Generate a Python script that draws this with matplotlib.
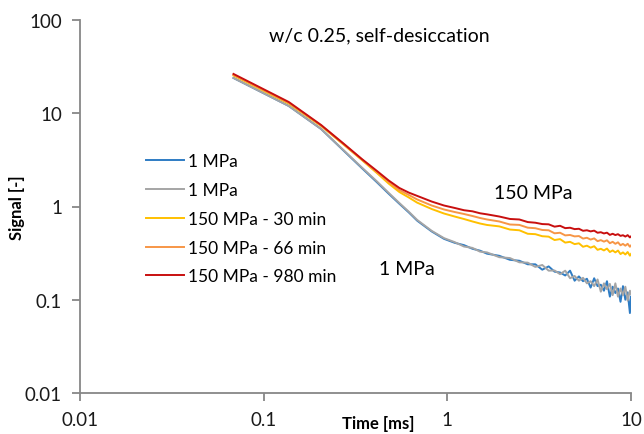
import matplotlib
matplotlib.use("Agg")
import matplotlib.pyplot as plt
from matplotlib.ticker import FixedLocator, FixedFormatter, NullLocator

plt.rcParams["font.family"] = ["Lato", "DejaVu Sans"]

# echo times [ms]
time_ms = [0.0685, 0.137, 0.2055, 0.274, 0.3425, 0.411, 0.4795, 0.548, 0.6165, 0.685,
           0.822, 0.959, 1.096, 1.233, 1.37, 1.507, 1.644,
           1.918, 2.192, 2.466, 2.74, 3.014, 3.288, 3.562, 3.836, 4.11, 4.384,
           4.658, 4.932, 5.206, 5.48, 5.754, 6.028, 6.302, 6.576, 6.85, 7.124,
           7.398, 7.672, 7.946, 8.22, 8.494, 8.768, 9.042, 9.316, 9.59, 9.864, 10.0]

sig_1mpa_a = [23.9, 11.97, 6.78, 3.93, 2.58, 1.84, 1.37, 1.07, 0.865, 0.705,
              0.540, 0.450, 0.408, 0.385, 0.352, 0.336, 0.312,
              0.296, 0.268, 0.262, 0.240, 0.240, 0.210, 0.228, 0.200, 0.196, 0.182,
              0.205, 0.160, 0.178, 0.158, 0.168, 0.135, 0.170, 0.140, 0.145, 0.125,
              0.158, 0.108, 0.138, 0.118, 0.132, 0.095, 0.140, 0.100, 0.120, 0.072, 0.108]

sig_1mpa_b = [23.9, 11.97, 6.78, 3.97, 2.62, 1.88, 1.40, 1.09, 0.880, 0.718,
              0.548, 0.458, 0.415, 0.372, 0.360, 0.328, 0.322,
              0.286, 0.280, 0.252, 0.250, 0.225, 0.236, 0.205, 0.206, 0.188, 0.205,
              0.170, 0.180, 0.160, 0.172, 0.150, 0.158, 0.140, 0.165, 0.122, 0.150,
              0.130, 0.148, 0.112, 0.150, 0.108, 0.132, 0.112, 0.138, 0.098, 0.125, 0.115]

sig_150_30 = [25.4, 12.7, 7.30, 4.57, 3.15, 2.31, 1.76, 1.43, 1.25, 1.10,
              0.940, 0.841, 0.781, 0.734, 0.691, 0.657, 0.634,
              0.612, 0.566, 0.556, 0.510, 0.505, 0.480, 0.475, 0.437, 0.447, 0.410,
              0.418, 0.395, 0.403, 0.370, 0.380, 0.362, 0.375, 0.343, 0.352, 0.338,
              0.354, 0.325, 0.338, 0.322, 0.337, 0.309, 0.322, 0.306, 0.325, 0.297, 0.310]

sig_150_66 = [25.8, 12.9, 7.39, 4.62, 3.19, 2.37, 1.83, 1.50, 1.33, 1.19,
              1.025, 0.929, 0.873, 0.831, 0.791, 0.753, 0.726,
              0.691, 0.641, 0.635, 0.593, 0.585, 0.560, 0.556, 0.516, 0.523, 0.490,
              0.495, 0.478, 0.482, 0.453, 0.462, 0.442, 0.455, 0.425, 0.436, 0.420,
              0.434, 0.404, 0.418, 0.398, 0.413, 0.384, 0.397, 0.380, 0.398, 0.370, 0.382]

sig_150_980 = [26.4, 13.2, 7.48, 4.68, 3.23, 2.43, 1.90, 1.58, 1.41, 1.30,
               1.13, 1.025, 0.965, 0.912, 0.888, 0.846, 0.824,
               0.781, 0.735, 0.726, 0.681, 0.670, 0.648, 0.644, 0.608, 0.621, 0.586,
               0.592, 0.572, 0.577, 0.549, 0.556, 0.541, 0.551, 0.523, 0.530, 0.514,
               0.524, 0.496, 0.510, 0.494, 0.505, 0.484, 0.492, 0.476, 0.493, 0.466, 0.478]

SERIES = [
    ("1 MPa", sig_1mpa_a, "#2E7CC4"),
    ("1 MPa", sig_1mpa_b, "#A5A5A5"),
    ("150 MPa - 30 min", sig_150_30, "#FFC000"),
    ("150 MPa - 66 min", sig_150_66, "#F79646"),
    ("150 MPa - 980 min", sig_150_980, "#C80F0F"),
]

x_ticks = [0.01, 0.1, 1, 10]
x_tick_labels = ["0.01", "0.1", "1", "10"]
y_ticks = [0.01, 0.1, 1, 10, 100]
y_tick_labels = ["0.01", "0.1", "1", "10", "100"]

fig = plt.figure(figsize=(6.44, 4.35), dpi=100)
ax = fig.add_axes([80 / 644, 41 / 435, 551 / 644, 373 / 435])

for label, y, col in SERIES:
    ax.plot(time_ms, y, color=col, linewidth=1.4, label=label)

ax.set_xscale("log")
ax.set_yscale("log")
ax.set_xlim(0.01, 10)
ax.set_ylim(0.01, 100)
ax.xaxis.set_major_locator(FixedLocator(x_ticks))
ax.xaxis.set_major_formatter(FixedFormatter(x_tick_labels))
ax.yaxis.set_major_locator(FixedLocator(y_ticks))
ax.yaxis.set_major_formatter(FixedFormatter(y_tick_labels))
ax.xaxis.set_minor_locator(NullLocator())
ax.yaxis.set_minor_locator(NullLocator())

for s in ["top", "right"]:
    ax.spines[s].set_visible(False)
for s in ["left", "bottom"]:
    ax.spines[s].set_color("#878787")
    ax.spines[s].set_linewidth(1.3)
ax.tick_params(axis="both", direction="out", length=6, width=1.3, color="#878787",
               labelsize=13.5, labelcolor="#1a1a1a", pad=7)

ax.set_xlabel("Time [ms]", fontsize=12, fontweight="bold")
ax.set_ylabel("Signal [-]", fontsize=12, fontweight="bold")
ax.xaxis.set_label_coords((378 - 80) / 551, -0.058)
ax.yaxis.set_label_coords(-0.1, 0.5)

ax.text((379 - 80) / 551, 0.982, "w/c 0.25, self-desiccation", transform=ax.transAxes,
        ha="center", va="top", fontsize=14)
ax.text(2.92, 1.43, "150 MPa", ha="center", va="center", fontsize=14)
ax.text(0.60, 0.214, "1 MPa", ha="center", va="center", fontsize=14)

ax.legend(loc="upper left", bbox_to_anchor=(0.107, 0.661), frameon=False, fontsize=12.5,
          handlelength=2.2, handletextpad=0.25, labelspacing=0.735, borderaxespad=0)

fig.savefig("out.png", dpi=100)
